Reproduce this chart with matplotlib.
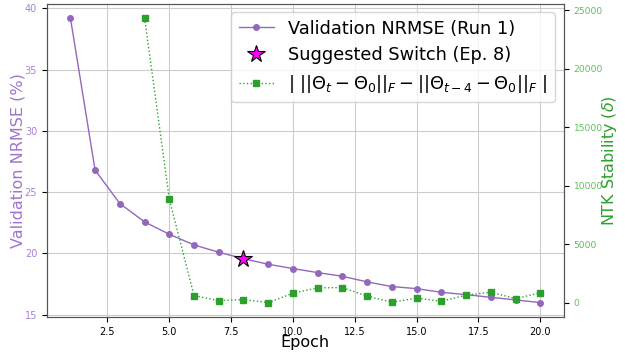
import matplotlib
matplotlib.use("Agg")
import matplotlib.pyplot as plt

epochs = list(range(1, 21))
nrmse = [39.24, 26.8, 24.07, 22.57, 21.56, 20.69, 20.09, 19.57, 19.11, 18.76,
         18.43, 18.13, 17.67, 17.29, 17.12, 16.82, 16.63, 16.41, 16.2, 15.98]
stab_epochs = list(range(4, 21))
stability = [24375, 8878, 625, 197, 283, 26, 830, 1284, 1310, 573, 60, 402,
             145, 659, 916, 368, 856]
switch_epoch = 8
switch_value = 19.57

purple = "#9467bd"
green = "#2ca02c"

fig, ax1 = plt.subplots(figsize=(6.25, 3.56), dpi=100)
l1, = ax1.plot(epochs, nrmse, color=purple, marker="o", markersize=4, linewidth=1,
               label="Validation NRMSE (Run 1)")
l2, = ax1.plot([switch_epoch], [switch_value], linestyle="none", marker="*", markersize=13,
               markerfacecolor="magenta", markeredgecolor="black", markeredgewidth=0.8,
               label="Suggested Switch (Ep. 8)", zorder=5)
ax1.set_xlabel("Epoch", fontsize=11.5, labelpad=-1)
ax1.set_ylabel("Validation NRMSE (%)", color="#9e75cc", fontsize=11.5)
ax1.yaxis.set_label_coords(-0.042, 0.5)
ax1.tick_params(axis="y", labelcolor="#a883d6", labelsize=7)
ax1.tick_params(axis="x", labelsize=7)
ax1.grid(True, color="#cccccc", linewidth=0.8)

ax2 = ax1.twinx()
l3, = ax2.plot(stab_epochs, stability, color=green, marker="s", markersize=4, linewidth=1,
               linestyle=":",
               label=r"$|\ ||\Theta_t - \Theta_0||_F - ||\Theta_{t-4} - \Theta_0||_F\ |$")
ax2.set_ylabel(r"NTK Stability ($\delta$)", color=green, fontsize=11.5)
ax2.yaxis.set_label_coords(1.07, 0.5)
ax2.tick_params(axis="y", labelcolor="#5cbf5c", labelsize=6.6)

for ax in (ax1, ax2):
    for s in ax.spines.values():
        s.set_color("#555555")

ax2.legend(handles=[l1, l2, l3], loc="upper right", fontsize=12.8)
fig.subplots_adjust(left=0.075, right=0.902, top=0.99, bottom=0.11)
fig.savefig("out.png", dpi=100)
